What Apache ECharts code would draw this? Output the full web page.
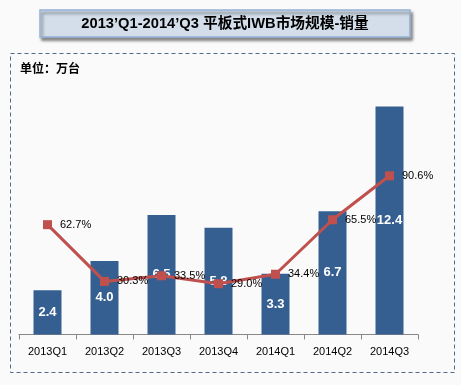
<!DOCTYPE html>
<html>
<head>
<meta charset="utf-8">
<script src="https://cdn.jsdelivr.net/npm/echarts@6/dist/echarts.min.js"></script>
<style>
html,body{margin:0;padding:0;background:#FAFAFA;}
#c{width:461px;height:385px;}
</style>
</head>
<body>
<div id="c"></div>
<script>
var categories = ['2013Q1','2013Q2','2013Q3','2013Q4','2014Q1','2014Q2','2014Q3'];
var salesValues = [2.4, 4.0, 6.5, 5.8, 3.3, 6.7, 12.4];
var growthValues = [62.7, 30.3, 33.5, 29.0, 34.4, 65.5, 90.6];
var titleText = '2013\u2019Q1-2014\u2019Q3 平板式IWB市场规模-销量';
var unitText = '单位：万台';

var FONT = '"Liberation Sans", Arial, "Noto Sans CJK SC", sans-serif';
var chart = echarts.init(document.getElementById('c'), null, {renderer: 'canvas'});
chart.setOption({
  backgroundColor: '#FAFAFA',
  animation: false,
  textStyle: {fontFamily: FONT},
  graphic: [
    {type: 'rect', shape: {x: 40, y: 10, width: 370, height: 27},
     style: {fill: '#D3DEEA', stroke: '#95B3D7', lineWidth: 1.5,
             shadowBlur: 3, shadowColor: 'rgba(0,0,0,0.45)', shadowOffsetX: 2, shadowOffsetY: 3}, z: 10},
    {type: 'text', x: 225, y: 24, z: 11,
     style: {text: titleText, fill: '#000', font: 'bold 14.7px "Liberation Sans", Arial, "Noto Sans CJK SC", sans-serif',
             align: 'center', verticalAlign: 'middle'}},
    {type: 'rect', shape: {x: 10.5, y: 53.5, width: 444, height: 319},
     style: {fill: 'none', stroke: '#4F6B8A', lineWidth: 1, lineDash: [4, 3]}, z: 1},
    {type: 'text', x: 20, y: 68, z: 11,
     style: {text: unitText, fill: '#000', font: 'bold 12px "Noto Sans CJK SC", sans-serif',
             align: 'left', verticalAlign: 'middle'}}
  ],
  grid: {left: 19, right: 43, top: 77, bottom: 50.5, containLabel: false},
  xAxis: {
    type: 'category', data: categories, boundaryGap: true,
    axisLine: {lineStyle: {color: '#888', width: 1}},
    axisTick: {show: true, alignWithLabel: false, length: 5, lineStyle: {color: '#888'}},
    axisLabel: {color: '#000', fontSize: 11, margin: 12, fontFamily: FONT}
  },
  yAxis: [
    {type: 'value', min: 0, max: 14, show: false, splitLine: {show: false}},
    {type: 'value', min: 0, max: 147, show: false, splitLine: {show: false}}
  ],
  series: [
    {type: 'bar', data: salesValues, barWidth: 28, yAxisIndex: 0, z: 2,
     itemStyle: {color: '#365F91'},
     label: {show: true, position: 'inside', color: '#fff', fontWeight: 'bold', fontSize: 13,
             fontFamily: FONT, formatter: function(p){return p.value.toFixed(1);}}},
    {type: 'line', data: growthValues, yAxisIndex: 1, z: 5,
     symbol: 'rect', symbolSize: 9, showAllSymbol: true,
     lineStyle: {color: '#C0504D', width: 3},
     itemStyle: {color: '#C0504D'},
     label: {show: true, position: 'right', distance: 8, color: '#000', fontSize: 11, fontFamily: FONT,
             formatter: function(p){return p.value.toFixed(1) + '%';}}}
  ]
});
</script>
</body>
</html>
